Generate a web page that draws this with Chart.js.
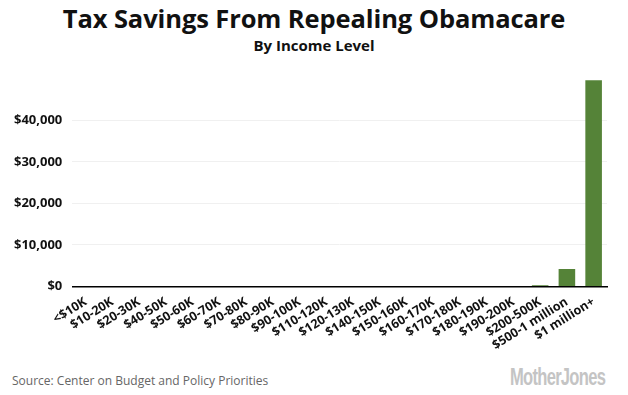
<!DOCTYPE html>
<html>
<head>
<meta charset="utf-8">
<script src="https://cdn.jsdelivr.net/npm/chart.js@4.4.1/dist/chart.umd.min.js"></script>
<style>
  body { margin: 0; background: #fff; width: 628px; height: 395px; overflow: hidden; position: relative; font-family: 'Open Sans', sans-serif; }
  #title { position: absolute; top: 1px; left: 0; width: 628px; text-align: center; font-size: 25.5px; font-weight: 700; color: #111; letter-spacing: -0.1px; }
  #subtitle { position: absolute; top: 35px; left: 0; width: 628px; text-align: center; font-size: 15px; font-weight: 700; color: #111; }
  #wrap { position: absolute; left: 0; top: 60px; width: 628px; height: 293px; }
  #source { position: absolute; left: 12px; top: 372px; font-size: 12px; color: #666; }
  #logo { position: absolute; left: 510px; top: 364px; font-family: 'Liberation Sans', sans-serif; font-weight: 700; font-size: 23px; color: #c4c4c4; letter-spacing: -1px; transform: scaleX(0.72); transform-origin: left top; white-space: nowrap; }
</style>
</head>
<body>
<div id="title">Tax Savings From Repealing Obamacare</div>
<div id="subtitle">By Income Level</div>
<div id="wrap"><canvas id="chart"></canvas></div>
<div id="source">Source: Center on Budget and Policy Priorities</div>
<div id="logo">MotherJones</div>
<script>
// income brackets as labelled in the original
const brackets = [
    '<$10K', '$10-20K', '$20-30K', '$40-50K', '$50-60K', '$60-70K', '$70-80K',
    '$80-90K', '$90-100K', '$110-120K', '$120-130K', '$140-150K', '$150-160K',
    '$160-170K', '$170-180K', '$180-190K', '$190-200K', '$200-500K',
    '$500-1 million', '$1 million+'
];
// average tax savings, dollars
const savings = [0, 0, 0, 0, 0, 0, 0, 0, 0, 0, 0, 0, 0, 0, 0, 0, 0, 300, 4200, 49700];
const yTicks = [0, 10000, 20000, 30000, 40000];

const fmtDollar = (v) => '$' + new Intl.NumberFormat('en-US').format(v);

const ctx = document.getElementById('chart').getContext('2d');
new Chart(ctx, {
    type: 'bar',
    data: {
        labels: brackets,
        datasets: [{
            data: savings,
            backgroundColor: '#558338',
            categoryPercentage: 0.62,
            barPercentage: 1.0
        }]
    },
    options: {
        responsive: true,
        maintainAspectRatio: false,
        animation: false,
        layout: { padding: { left: 4, right: 21, top: 19, bottom: 0 } },
        plugins: {
            legend: { display: false },
            tooltip: { enabled: false }
        },
        scales: {
            x: {
                grid: { display: false },
                border: { color: '#000', width: 1.5 },
                ticks: {
                    color: '#111',
                    font: { family: "'Open Sans', sans-serif", size: 12.5, weight: '700' },
                    minRotation: 32,
                    maxRotation: 32,
                    autoSkip: false,
                    padding: 0
                }
            },
            y: {
                min: 0,
                max: 50000,
                afterBuildTicks: (axis) => {
                    axis.ticks = yTicks.map(v => ({ value: v }));
                },
                grid: { color: '#f0f0f0', drawTicks: false },
                border: { display: false },
                ticks: {
                    color: '#111',
                    padding: 10,
                    font: { family: "'Open Sans', sans-serif", size: 13, weight: '700' },
                    callback: (v) => fmtDollar(v)
                }
            }
        }
    }
});
</script>
</body>
</html>
